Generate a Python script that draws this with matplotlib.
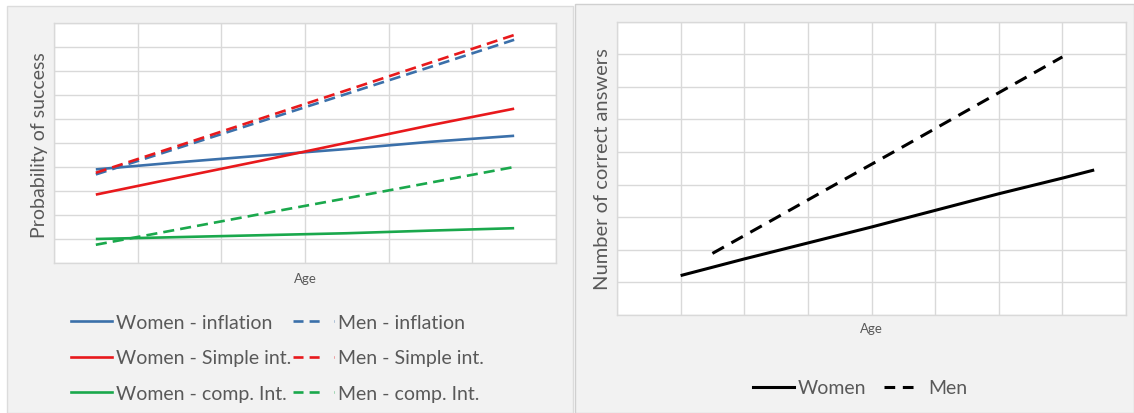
import matplotlib
matplotlib.use('Agg')
import matplotlib.pyplot as plt
from matplotlib.lines import Line2D
from matplotlib.patches import Rectangle

plt.rcParams['font.family'] = ['Lato', 'DejaVu Sans']

W, H = 1134, 414

# left chart: probability of success, six age groups
left_x = [0.5, 1.5, 2.5, 3.5, 4.5, 5.5]
women_inflation = [3.9, 4.2, 4.48, 4.75, 5.05, 5.3]
men_inflation = [3.69, 4.81, 5.93, 7.05, 8.17, 9.3]
women_simple = [2.85, 3.57, 4.28, 5.01, 5.74, 6.43]
men_simple = [3.76, 4.9, 6.05, 7.2, 8.35, 9.5]
women_comp = [1.0, 1.08, 1.16, 1.24, 1.35, 1.45]
men_comp = [0.76, 1.41, 2.06, 2.7, 3.35, 4.0]

# right chart: number of correct answers
women_x = [1, 2, 3, 4, 5, 6, 7, 7.5]
women_correct = [1.21, 1.72, 2.21, 2.7, 3.21, 3.72, 4.2, 4.45]
men_x = [1.5, 2.5, 3.5, 4.5, 5.5, 6.5, 7.0]
men_correct = [1.89, 2.98, 4.08, 5.17, 6.27, 7.37, 7.92]

BLUE = '#3b70aa'
RED = '#e8191c'
GREEN = '#1aa84c'
TEXT = '#595959'
GRID = '#d9d9d9'
PANEL = '#f2f2f2'


def px(x0, y0, x1, y1):
    '''pixel box (top-left origin) -> figure fraction rect'''
    return [x0 / W, 1 - y1 / H, (x1 - x0) / W, (y1 - y0) / H]


def style_axes(ax, xmax, ymax):
    ax.set_xlim(0, xmax)
    ax.set_ylim(0, ymax)
    ax.set_xticks(range(xmax + 1))
    ax.set_yticks(range(ymax + 1))
    ax.tick_params(length=0, labelleft=False, labelbottom=False)
    ax.grid(True, color=GRID, linewidth=1)
    ax.set_axisbelow(True)
    for s in ax.spines.values():
        s.set_color(GRID)
        s.set_linewidth(1)


fig = plt.figure(figsize=(W / 100, H / 100), dpi=100, facecolor='white')

# panel backgrounds
fig.patches.append(Rectangle((7 / W, 0), 566 / W, 1 - 7 / H, transform=fig.transFigure,
                             facecolor=PANEL, edgecolor='#dcdcdc', linewidth=1, zorder=-10))
fig.patches.append(Rectangle((575 / W, 0), 1 - 575 / W, 1 - 5 / H, transform=fig.transFigure,
                             facecolor=PANEL, edgecolor='#d0d0d0', linewidth=1, zorder=-10))

# ---- left chart
ax1 = fig.add_axes(px(54, 24, 556, 264))
style_axes(ax1, 6, 10)
lw = 1.9
solid = dict(linewidth=lw, solid_capstyle='butt')
dash = dict(linewidth=lw, dashes=(4.2, 2.3), dash_capstyle='butt')
ax1.plot(left_x, women_inflation, color=BLUE, **solid)
ax1.plot(left_x, men_inflation, color=BLUE, **dash)
ax1.plot(left_x, women_simple, color=RED, **solid)
ax1.plot(left_x, men_simple, color=RED, **dash)
ax1.plot(left_x, women_comp, color=GREEN, **solid)
ax1.plot(left_x, men_comp, color=GREEN, **dash)
fig.text(40 / W, 1 - 145 / H, 'Probability of success', rotation=90, ha='center', va='center',
         fontsize=14, color=TEXT)
fig.text(305 / W, 1 - 279 / H, 'Age', ha='center', va='center', fontsize=9.5, color=TEXT)

leg_dash = (3.8, 2.3, 3.8, 5.5)
handles1 = [
    Line2D([], [], color=BLUE, linewidth=lw),
    Line2D([], [], color=RED, linewidth=lw),
    Line2D([], [], color=GREEN, linewidth=lw),
    Line2D([], [], color=BLUE, linewidth=lw, dashes=leg_dash),
    Line2D([], [], color=RED, linewidth=lw, dashes=leg_dash),
    Line2D([], [], color=GREEN, linewidth=lw, dashes=leg_dash),
]
labels1 = ['Women - inflation', 'Women - Simple int.', 'Women - comp. Int.',
           'Men - inflation', 'Men - Simple int.', 'Men - comp. Int.']
fig.legend(handles1, labels1, ncol=2, loc='upper left',
           bbox_to_anchor=(71 / W, 1 - 315 / H), frameon=False, fontsize=14,
           borderpad=0, borderaxespad=0, handlelength=2.1, handletextpad=0.2,
           columnspacing=0.1, labelspacing=0.95, labelcolor=TEXT)

# ---- right chart
ax2 = fig.add_axes(px(617, 22.7, 1126, 316))
style_axes(ax2, 8, 9)
lw2 = 2.2
ax2.plot(women_x, women_correct, color='black', linewidth=lw2, solid_capstyle='butt')
ax2.plot(men_x, men_correct, color='black', linewidth=lw2, dashes=(4.3, 2.8), dash_capstyle='butt')
fig.text(603 / W, 1 - 169 / H, 'Number of correct answers', rotation=90, ha='center', va='center',
         fontsize=14.5, color=TEXT)
fig.text(871 / W, 1 - 329 / H, 'Age', ha='center', va='center', fontsize=9.5, color=TEXT)

handles2 = [
    Line2D([], [], color='black', linewidth=lw2),
    Line2D([], [], color='black', linewidth=lw2, dashes=(3.5, 2.5, 3.5, 5)),
]
fig.legend(handles2, ['Women', 'Men'], ncol=2, loc='center left',
           bbox_to_anchor=(753 / W, 1 - 389 / H), frameon=False, fontsize=14,
           borderpad=0, borderaxespad=0, handlelength=2.1, handletextpad=0.2,
           columnspacing=0.9, labelcolor=TEXT)

fig.savefig('out.png', dpi=100, facecolor='white')
